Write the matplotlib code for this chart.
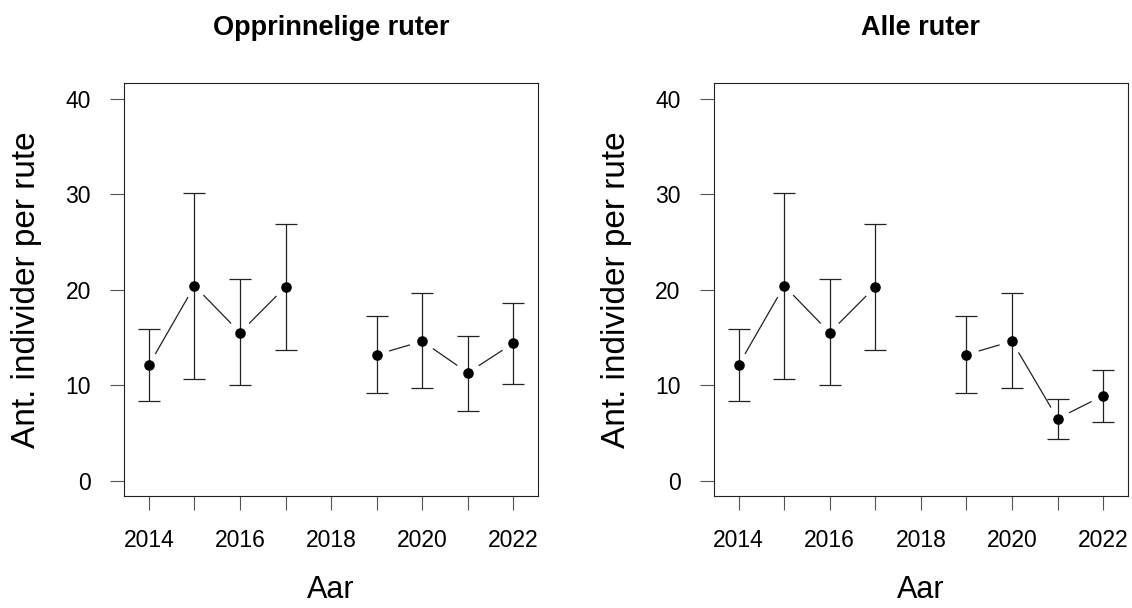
import matplotlib
matplotlib.use('Agg')
import matplotlib.pyplot as plt
import numpy as np

plt.rcParams['font.family'] = ['Liberation Sans', 'DejaVu Sans']

years = np.array([2014, 2015, 2016, 2017, 2019, 2020, 2021, 2022])

# Opprinnelige ruter
orig_mean = np.array([12.1, 20.4, 15.5, 20.3, 13.2, 14.6, 11.3, 14.4])
orig_low = np.array([8.3, 10.6, 10.0, 13.7, 9.2, 9.7, 7.3, 10.1])
orig_high = np.array([15.9, 30.1, 21.1, 26.9, 17.2, 19.6, 15.2, 18.6])

# Alle ruter
all_mean = np.array([12.1, 20.4, 15.5, 20.3, 13.2, 14.6, 6.5, 8.9])
all_low = np.array([8.3, 10.6, 10.0, 13.7, 9.2, 9.7, 4.4, 6.1])
all_high = np.array([15.9, 30.1, 21.1, 26.9, 17.2, 19.6, 8.6, 11.6])

titles = ['Opprinnelige ruter', 'Alle ruter']
xtick_years = np.arange(2014, 2023)
ytick_vals = [0, 10, 20, 30, 40]

W, H = 1132, 608
fig = plt.figure(figsize=(W / 100, H / 100), dpi=100)


def panel(left_px, mean, low, high, title):
    ax = fig.add_axes([left_px / W, (H - 496) / H, 413.7 / W, 412.7 / H])
    ax.set_xlim(2013.46, 2022.54)
    ax.set_ylim(-1.6, 41.6)
    # error bars + points
    ax.errorbar(years, mean, yerr=[mean - low, high - mean], fmt='none',
                ecolor='#222222', elinewidth=0.9, capsize=8, capthick=0.9)
    # R type="b" lines: segments with gaps around the points
    gap = 13.5
    pts = ax.transData.transform(np.column_stack([years, mean]))
    for i in range(len(years) - 1):
        if years[i + 1] - years[i] != 1:
            continue
        p0, p1 = pts[i], pts[i + 1]
        d = p1 - p0
        L = np.hypot(*d)
        if L <= 2 * gap:
            continue
        u = d / L
        seg = np.array([p0 + u * gap, p1 - u * gap])
        seg = ax.transData.inverted().transform(seg)
        ax.plot(seg[:, 0], seg[:, 1], color='#222222', lw=0.9)
    ax.plot(years, mean, 'o', color='black', ms=6.6, zorder=5)

    ax.set_xticks(xtick_years)
    ax.set_xticklabels([str(y) if y % 2 == 0 else '' for y in xtick_years])
    ax.set_yticks(ytick_vals)
    ax.tick_params(axis='both', direction='out', length=10, width=0.8,
                   color='#555555', labelsize=16.5)
    ax.tick_params(axis='x', pad=14)
    ax.tick_params(axis='y', pad=14)
    for s in ax.spines.values():
        s.set_linewidth(0.8)
        s.set_color('#222222')
    ax.set_xlabel('Aar', fontsize=22, labelpad=16)
    ax.set_ylabel('Ant. individer per rute', fontsize=24, labelpad=17)
    cx = (left_px + 413.7 / 2) / W
    fig.text(cx, 1 - 28 / H, title, ha='center', va='center',
             fontsize=19.5, fontweight='bold')
    return ax


panel(124.3, orig_mean, orig_low, orig_high, titles[0])
panel(714.0, all_mean, all_low, all_high, titles[1])

fig.savefig('out.png', dpi=100)
